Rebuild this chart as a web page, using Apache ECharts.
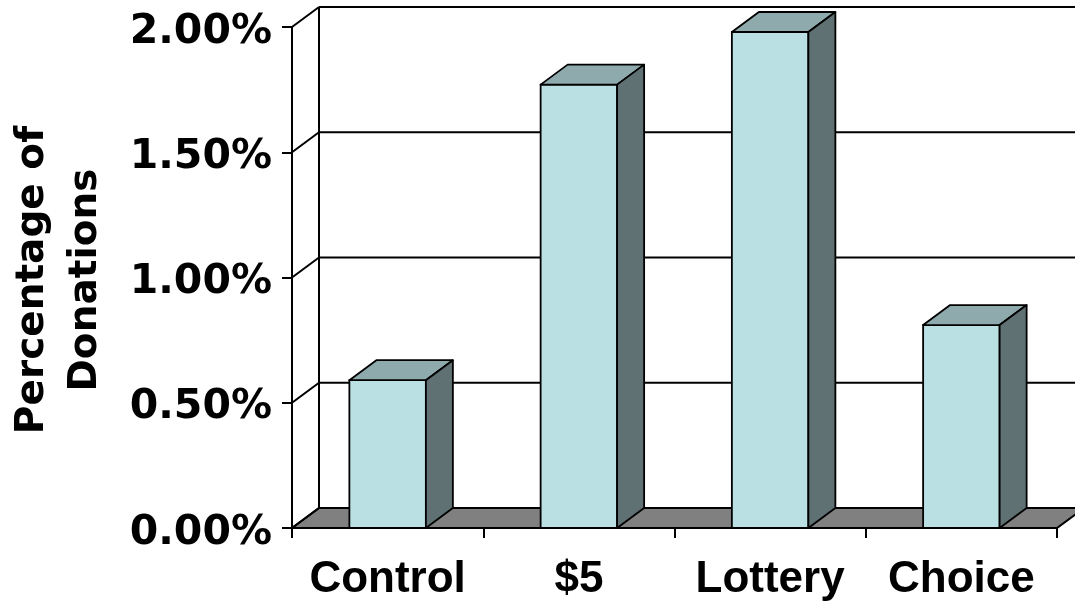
<!DOCTYPE html>
<html>
<head>
<meta charset="utf-8">
<script src="https://cdn.jsdelivr.net/npm/echarts@6/dist/echarts.min.js"></script>
<style>
  html, body { margin: 0; padding: 0; background: #ffffff; }
  #chart { width: 1075px; height: 603px; }
</style>
</head>
<body>
<div id="chart"></div>
<script>
// ---- data ----
const categories = ['Control', '$5', 'Lottery', 'Choice'];
const donationPct = [0.59, 1.77, 1.98, 0.81];
const yTicks = [0, 0.5, 1.0, 1.5, 2.0];
const yAxisTitle = 'Percentage of\nDonations';

// ---- 3D look (style only) ----
const DX = 27, DY = -20;
const LINE = '#000000';
const FRONT = '#BBE0E3', TOP = '#8EAAAC', SIDE = '#5F7173', FLOOR = '#808080';

const chart = echarts.init(document.getElementById('chart'), null, { renderer: 'canvas' });

function renderBackground(params, api) {
  const band = api.size([1, 0])[0];
  const x0 = api.coord([0, 0])[0] - band / 2;
  const x1 = api.coord([categories.length - 1, 0])[0] + band / 2;
  const y0 = api.coord([0, 0])[1];
  const yTop = api.coord([0, yTicks[yTicks.length - 1]])[1];
  const children = [];
  children.push({
    type: 'polygon',
    shape: { points: [[x0, y0], [x1, y0], [x1 + DX, y0 + DY], [x0 + DX, y0 + DY]] },
    style: { fill: FLOOR, stroke: LINE, lineWidth: 2 }
  });
  children.push({
    type: 'line',
    shape: { x1: x0 + DX, y1: y0 + DY, x2: x0 + DX, y2: yTop + DY },
    style: { stroke: LINE, lineWidth: 2 }
  });
  yTicks.forEach(function (v) {
    const y = api.coord([0, v])[1];
    children.push({
      type: 'line',
      shape: { x1: x0, y1: y, x2: x0 + DX, y2: y + DY },
      style: { stroke: LINE, lineWidth: 2 }
    });
    if (v !== 0) {
      children.push({
        type: 'line',
        shape: { x1: x0 + DX, y1: y + DY, x2: x1 + DX + 40, y2: y + DY },
        style: { stroke: LINE, lineWidth: 2 }
      });
    }
  });
  return { type: 'group', children: children };
}

function renderBar(params, api) {
  const band = api.size([1, 0])[0];
  const w = band * 0.4;
  const top = api.coord([api.value(0), api.value(1)]);
  const base = api.coord([api.value(0), 0]);
  const xl = top[0] - w / 2, xr = top[0] + w / 2;
  const yt = top[1], yb = base[1];
  return {
    type: 'group',
    children: [
      { type: 'rect', shape: { x: xl, y: yt, width: w, height: yb - yt },
        style: { fill: FRONT, stroke: LINE, lineWidth: 1.8 } },
      { type: 'polygon', shape: { points: [[xl, yt], [xr, yt], [xr + DX, yt + DY], [xl + DX, yt + DY]] },
        style: { fill: TOP, stroke: LINE, lineWidth: 1.8, lineJoin: 'round' } },
      { type: 'polygon', shape: { points: [[xr, yt], [xr + DX, yt + DY], [xr + DX, yb + DY], [xr, yb]] },
        style: { fill: SIDE, stroke: LINE, lineWidth: 1.8, lineJoin: 'round' } }
    ]
  };
}

const option = {
  backgroundColor: '#ffffff',
  animation: false,
  grid: { left: 292, right: 18, top: 27, bottom: 75, containLabel: false },
  xAxis: {
    type: 'category',
    data: categories,
    boundaryGap: true,
    axisLine: { show: true, lineStyle: { color: LINE, width: 2 } },
    axisTick: { show: true, length: 10, alignWithLabel: false, lineStyle: { color: LINE, width: 2 } },
    axisLabel: {
      interval: 0, margin: 30, color: '#000',
      fontFamily: 'Liberation Sans, Arial, sans-serif', fontWeight: 'bold', fontSize: 44
    },
    splitLine: { show: false }
  },
  yAxis: {
    type: 'value',
    min: 0, max: 2, interval: 0.5,
    axisLine: { show: true, lineStyle: { color: LINE, width: 2 } },
    axisTick: { show: true, length: 10, inside: false, lineStyle: { color: LINE, width: 2 } },
    axisLabel: {
      margin: 20, color: '#000',
      verticalAlign: 'top', lineHeight: 10,
      fontFamily: 'DejaVu Sans, sans-serif', fontWeight: 'bold', fontSize: 41,
      formatter: function (v) { return v.toFixed(2) + '%'; }
    },
    splitLine: { show: false }
  },
  graphic: [{
    type: 'text',
    x: 59, y: 280,
    rotation: Math.PI / 2,
    style: {
      text: yAxisTitle,
      fill: '#000',
      font: 'bold 39px "DejaVu Sans", sans-serif',
      align: 'center', verticalAlign: 'middle',
      lineHeight: 53
    }
  }],
  series: [
    { type: 'custom', z: 1, silent: true, data: [[0, 0]], renderItem: renderBackground, clip: false },
    { type: 'custom', z: 2, data: donationPct.map(function (v, i) { return [i, v]; }), renderItem: renderBar, clip: false }
  ]
};
chart.setOption(option);
</script>
</body>
</html>
